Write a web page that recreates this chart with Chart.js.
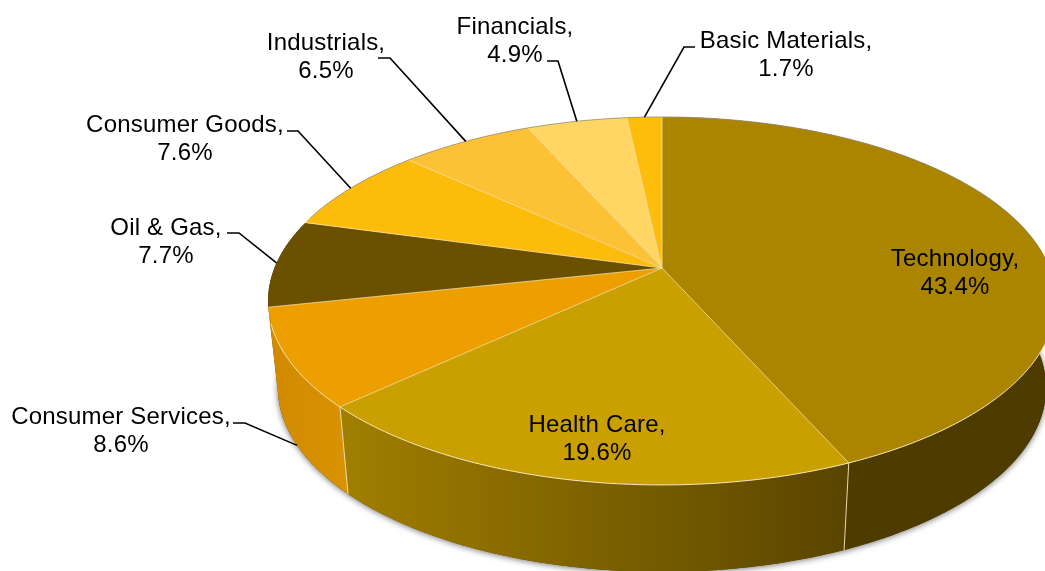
<!DOCTYPE html>
<html>
<head>
<meta charset="utf-8">
<title>Sector weights</title>
<script src="https://cdn.jsdelivr.net/npm/chart.js@4/dist/chart.umd.min.js"></script>
<style>
  html, body { margin: 0; padding: 0; background: #fff; }
  canvas { display: block; }
</style>
</head>
<body>
<canvas id="grafico" width="1045" height="571"></canvas>
<script>
const sectores = ['Technology', 'Health Care', 'Consumer Services', 'Oil & Gas', 'Consumer Goods', 'Industrials', 'Financials', 'Basic Materials'];
const pesos = [43.4, 19.6, 8.6, 7.7, 7.6, 6.5, 4.9, 1.7];

const coloresCara = ['#ab8500', '#c9a000', '#ee9f00', '#6a5000', '#fcbc0c', '#fdc136', '#ffd563', '#fdbd0a'];
const coloresPared = [['#4a3800', '#4e3b00'], ['#a07e00', '#5a4500'], ['#d28b00', '#d99200'], ['#5a4400', '#5a4400'],
    ['#d8a000', '#d8a000'], ['#d8a000', '#d8a000'], ['#d8a000', '#d8a000'], ['#d8a000', '#d8a000']];

// where each label sits: text centre, first baseline, elbow of the leader (if any)
const rotulos = [
    { x: 955, y: 266 },
    { x: 597, y: 432 },
    { x: 121, y: 424, codo: [[233, 423], [245, 423]], abajo: true },
    { x: 166, y: 235, codo: [[227, 233], [239, 233]] },
    { x: 185, y: 132, codo: [[287, 131], [298, 131]] },
    { x: 326, y: 50, codo: [[378, 58], [390, 58]] },
    { x: 515, y: 34, codo: [[547, 61], [558, 61]] },
    { x: 786, y: 48, codo: [[695, 47], [684, 47]] }
];

// perspective of the disc: circle angle -> page position
const centro = { x: 662, y: 268 };
const radioX = 387.6, radioY = 178.1, fuga = -0.179;
const grosor = 87, encogeBase = 0.975;

function proyectar(angulo, base) {
    const u = Math.cos(angulo), v = Math.sin(angulo);
    const d = 1 + fuga * v;
    let x = radioX * u / d;
    let y = radioY * v / d;
    if (base) {
        x *= encogeBase;
        y += grosor;
    }
    return { x: centro.x + x, y: centro.y + y };
}

function trazarArco(ctx, ini, fin, base, continuar) {
    const pasos = Math.max(2, Math.ceil(Math.abs(fin - ini) / 0.01));
    for (let i = 0; i <= pasos; i++) {
        const p = proyectar(ini + (fin - ini) * i / pasos, base);
        if (i === 0 && !continuar) ctx.moveTo(p.x, p.y);
        else ctx.lineTo(p.x, p.y);
    }
}

const pie3d = {
    id: 'pie3d',
    beforeDatasetDraw(chart) {
        const ctx = chart.ctx;
        const arcos = chart.getDatasetMeta(0).data;
        ctx.save();

        // soft shadow under the disc
        ctx.save();
        ctx.shadowColor = 'rgba(0,0,0,0.55)';
        ctx.shadowBlur = 6;
        ctx.shadowOffsetY = 1;
        ctx.fillStyle = '#5a4500';
        ctx.beginPath();
        trazarArco(ctx, 0, Math.PI * 2, true);
        ctx.closePath();
        ctx.fill();
        ctx.restore();

        // side walls, back to front so the nearer ones cover the others
        const orden = arcos.map((arco, i) => i).sort((a, b) => {
            const medio = (arco) => Math.sin((arco.startAngle + arco.endAngle) / 2);
            return medio(arcos[a]) - medio(arcos[b]);
        });
        orden.forEach((i) => {
            const ini = arcos[i].startAngle, fin = arcos[i].endAngle;
            const a = proyectar(ini, true), b = proyectar(fin, true);
            const grad = ctx.createLinearGradient(Math.min(a.x, b.x), 0, Math.max(a.x, b.x), 0);
            const par = coloresPared[i];
            grad.addColorStop(0, par[0]);
            grad.addColorStop(1, par[1]);
            ctx.fillStyle = grad;
            ctx.beginPath();
            trazarArco(ctx, ini, fin, false);
            trazarArco(ctx, fin, ini, true, true);
            ctx.closePath();
            ctx.fill();
        });

        // top faces
        arcos.forEach((arco) => {
            ctx.fillStyle = arco.options.backgroundColor;
            ctx.beginPath();
            ctx.moveTo(centro.x, centro.y);
            trazarArco(ctx, arco.startAngle, arco.endAngle, false, true);
            ctx.closePath();
            ctx.fill();
        });

        // thin light seams between slices
        ctx.lineWidth = 1;
        arcos.forEach((arco) => {
            const p = proyectar(arco.startAngle, false);
            ctx.strokeStyle = 'rgba(250,228,170,0.8)';
            ctx.beginPath();
            ctx.moveTo(centro.x, centro.y);
            ctx.lineTo(p.x, p.y);
            ctx.stroke();
            if (Math.sin(arco.startAngle) > 0.5) {
                const q = proyectar(arco.startAngle, true);
                ctx.strokeStyle = 'rgba(250,232,190,0.9)';
                ctx.beginPath();
                ctx.moveTo(p.x, p.y);
                ctx.lineTo(q.x, q.y);
                ctx.stroke();
            }
        });

        // rim: light along the front, greyish along the back
        ctx.strokeStyle = 'rgba(252,238,200,0.95)';
        ctx.beginPath();
        trazarArco(ctx, 0.08, Math.PI - 0.3, false);
        ctx.stroke();
        ctx.strokeStyle = 'rgba(150,145,130,0.8)';
        ctx.beginPath();
        trazarArco(ctx, Math.PI + 0.3, Math.PI * 2 - 0.1, false);
        ctx.stroke();

        ctx.restore();
        return false;
    },
    afterDraw(chart) {
        const ctx = chart.ctx;
        const arcos = chart.getDatasetMeta(0).data;
        ctx.save();
        ctx.font = '24px "Liberation Sans"';
        ctx.letterSpacing = '0.2px';
        ctx.textAlign = 'center';
        ctx.textBaseline = 'alphabetic';
        ctx.fillStyle = '#000';
        ctx.strokeStyle = '#000';
        ctx.lineWidth = 1.6;
        arcos.forEach((arco, i) => {
            const r = rotulos[i];
            ctx.fillText(sectores[i] + ',', r.x, r.y);
            ctx.fillText(pesos[i].toFixed(1) + '%', r.x, r.y + 28);
            if (r.codo) {
                const fin = proyectar((arco.startAngle + arco.endAngle) / 2, r.abajo);
                ctx.beginPath();
                ctx.moveTo(r.codo[0][0], r.codo[0][1]);
                ctx.lineTo(r.codo[1][0], r.codo[1][1]);
                ctx.lineTo(fin.x, fin.y);
                ctx.stroke();
            }
        });
        ctx.restore();
    }
};

new Chart(document.getElementById('grafico').getContext('2d'), {
    type: 'pie',
    data: {
        labels: sectores,
        datasets: [{ data: pesos, backgroundColor: coloresCara }]
    },
    options: {
        responsive: false,
        animation: false,
        plugins: {
            legend: { display: false },
            tooltip: { enabled: false }
        }
    },
    plugins: [pie3d]
});
</script>
</body>
</html>
